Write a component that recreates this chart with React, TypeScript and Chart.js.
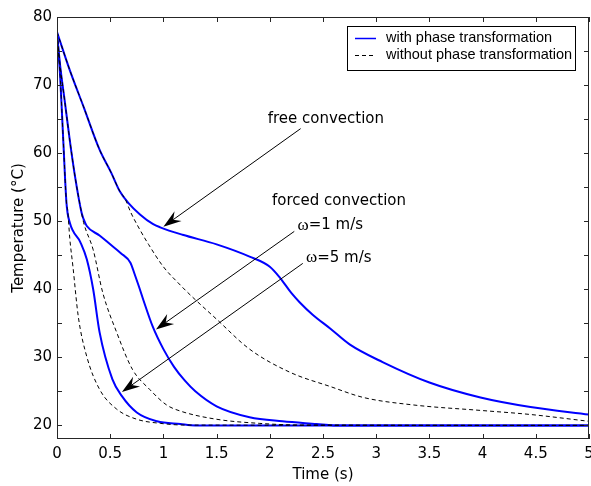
import { useEffect, useRef } from 'react';
import { Chart, registerables } from 'chart.js';

Chart.register(...registerables);

// ---- data (time in s, temperature in °C) ----
const freeWithT = [0, 0.12, 0.25, 0.4, 0.51, 0.59, 0.67, 0.78, 0.9, 0.97, 1.18, 1.5, 1.81, 2.0, 2.1, 2.2, 2.28, 2.4, 2.57, 2.75, 3.06, 3.5, 3.98, 4.45, 5.0];
const freeWithY = [77.8, 72.2, 66.8, 60.5, 57.1, 54.4, 52.7, 51.0, 49.6, 49.1, 48.0, 46.6, 44.8, 43.3, 41.6, 39.5, 38.1, 36.3, 34.2, 31.9, 29.3, 26.3, 24.1, 22.7, 21.6];

const freeWithoutT = [0, 0.12, 0.25, 0.4, 0.51, 0.59, 0.64, 0.69, 0.77, 0.86, 1.0, 1.16, 1.25, 1.5, 1.81, 2.19, 2.57, 2.88, 3.35, 3.98, 4.45, 5.0];
const freeWithoutY = [77.8, 72.2, 66.8, 60.5, 57.1, 54.4, 53.3, 51.4, 49.0, 46.6, 43.3, 40.6, 39.2, 35.6, 31.2, 27.8, 25.7, 24.1, 23.0, 22.2, 21.6, 20.6];

const w1WithT = [0, 0.03, 0.075, 0.12, 0.17, 0.23, 0.25, 0.28, 0.4, 0.5, 0.6, 0.69, 0.73, 0.77, 0.81, 0.9, 1.0, 1.1, 1.2, 1.3, 1.5, 1.81, 2.12, 2.44, 2.6, 5.0];
const w1WithY = [77.6, 72.8, 67.4, 61.9, 56.5, 51.3, 50.3, 49.3, 47.9, 46.6, 45.3, 43.9, 42.2, 40.4, 38.5, 34.5, 31.2, 28.6, 26.6, 25.0, 22.8, 21.2, 20.6, 20.2, 20.0, 20.0];

const w1WithoutT = [0, 0.03, 0.075, 0.12, 0.17, 0.23, 0.25, 0.34, 0.43, 0.56, 0.71, 0.87, 1.03, 1.16, 1.5, 1.9, 2.3, 5.0];
const w1WithoutY = [77.6, 72.8, 67.4, 61.9, 56.5, 51.3, 49.8, 45.8, 39.5, 33.7, 28.2, 25.3, 23.0, 22.1, 20.9, 20.3, 20.05, 20.0];

const w5WithT = [0, 0.03, 0.06, 0.09, 0.12, 0.22, 0.28, 0.34, 0.4, 0.52, 0.61, 0.75, 0.94, 1.16, 1.3, 5.0];
const w5WithY = [77.8, 71.2, 61.5, 52.5, 49.8, 46.9, 44.4, 40.0, 33.7, 26.8, 24.3, 21.9, 20.6, 20.2, 20.0, 20.0];

const w5WithoutT = [0, 0.03, 0.06, 0.09, 0.1, 0.12, 0.15, 0.2, 0.28, 0.4, 0.56, 0.75, 0.97, 1.2, 5.0];
const w5WithoutY = [77.8, 71.2, 61.5, 52.5, 51.7, 47.5, 43.3, 36.0, 30.1, 25.3, 22.4, 20.9, 20.3, 20.05, 20.0];

const xTickValues = [0, 0.5, 1, 1.5, 2, 2.5, 3, 3.5, 4, 4.5, 5];
const yTickValues = [20, 25, 30, 35, 40, 45, 50, 55, 60, 65, 70, 75, 80];
const yLabelValues = [20, 30, 40, 50, 60, 70, 80];

const legendLabels = ['with phase transformation', 'without phase transformation'];
const xTitle = 'Time (s)';
const yTitle = 'Temperature (°C)';

// annotation texts anchored in data coordinates (left edge, vertical centre)
const annotationTexts = [
  { t: 1.98, T: 65.0, omega: false, text: 'free convection' },
  { t: 2.02, T: 52.9, omega: false, text: 'forced convection' },
  { t: 2.26, T: 49.4, omega: true, text: '=1 m/s' },
  { t: 2.34, T: 44.6, omega: true, text: '=5 m/s' },
];
// arrows: tail -> tip in data coordinates
const arrows = [
  { t0: 2.29, T0: 63.6, t1: 1.0, T1: 49.2 },
  { t0: 2.23, T0: 48.5, t1: 0.93, T1: 34.1 },
  { t0: 2.31, T0: 43.8, t1: 0.61, T1: 24.9 },
];

const BLUE = '#0000ff';
const SANS = '"DejaVu Sans", Verdana, sans-serif';

const toPoints = (ts: number[], ys: number[]) => ts.map((t, i) => ({ x: t, y: ys[i] }));

const decorPlugin = {
  id: 'decor',
  afterDraw(chart: any) {
    const { ctx, chartArea, scales } = chart;
    const { left, right, top, bottom } = chartArea;
    const xs = scales.x;
    const ys = scales.y;
    ctx.save();

    // frame
    ctx.strokeStyle = '#262626';
    ctx.lineWidth = 1;
    ctx.strokeRect(left + 0.5, top + 0.5, right - left - 1, bottom - top - 1);

    // inward ticks
    const tl = 5;
    ctx.beginPath();
    xTickValues.forEach((v) => {
      const px = Math.round(xs.getPixelForValue(v)) + 0.5;
      ctx.moveTo(px, bottom);
      ctx.lineTo(px, bottom - tl);
      ctx.moveTo(px, top);
      ctx.lineTo(px, top + tl);
    });
    yTickValues.forEach((v) => {
      const py = Math.round(ys.getPixelForValue(v)) + 0.5;
      ctx.moveTo(left, py);
      ctx.lineTo(left + tl, py);
      ctx.moveTo(right, py);
      ctx.lineTo(right - tl, py);
    });
    ctx.stroke();

    // x tick labels
    ctx.fillStyle = '#000';
    ctx.font = `15px ${SANS}`;
    ctx.textAlign = 'center';
    ctx.textBaseline = 'middle';
    xTickValues.forEach((v) => {
      ctx.fillText(String(v), xs.getPixelForValue(v), bottom + 15);
    });

    // axis titles
    ctx.fillText(xTitle, (left + right) / 2, bottom + 36);
    ctx.save();
    ctx.translate(left - 38, (top + bottom) / 2);
    ctx.rotate(-Math.PI / 2);
    ctx.fillText(yTitle, 0, 0);
    ctx.restore();

    // annotation texts
    ctx.textAlign = 'left';
    annotationTexts.forEach((a) => {
      let x = xs.getPixelForValue(a.t);
      const y = ys.getPixelForValue(a.T);
      if (a.omega) {
        ctx.font = '17px "Liberation Serif", "DejaVu Serif", serif';
        ctx.fillText('ω', x, y);
        x += ctx.measureText('ω').width;
      }
      ctx.font = `15px ${SANS}`;
      ctx.fillText(a.text, x, y);
    });

    // arrows
    arrows.forEach((a) => {
      const x0 = xs.getPixelForValue(a.t0);
      const y0 = ys.getPixelForValue(a.T0);
      const x1 = xs.getPixelForValue(a.t1);
      const y1 = ys.getPixelForValue(a.T1);
      const ang = Math.atan2(y1 - y0, x1 - x0);
      const L = 18;
      const W = 6;
      const notch = 12;
      ctx.strokeStyle = '#000';
      ctx.lineWidth = 1;
      ctx.beginPath();
      ctx.moveTo(x0, y0);
      ctx.lineTo(x1 - Math.cos(ang) * notch, y1 - Math.sin(ang) * notch);
      ctx.stroke();
      const bx = x1 - Math.cos(ang) * L;
      const by = y1 - Math.sin(ang) * L;
      const nx = -Math.sin(ang);
      const ny = Math.cos(ang);
      ctx.fillStyle = '#000';
      ctx.beginPath();
      ctx.moveTo(x1, y1);
      ctx.lineTo(bx + nx * W, by + ny * W);
      ctx.lineTo(x1 - Math.cos(ang) * notch, y1 - Math.sin(ang) * notch);
      ctx.lineTo(bx - nx * W, by - ny * W);
      ctx.closePath();
      ctx.fill();
    });

    // legend
    const bx0 = right - 242;
    const by0 = top + 9;
    const bw = 228;
    const bh = 44;
    ctx.fillStyle = '#fff';
    ctx.fillRect(bx0, by0, bw, bh);
    ctx.strokeStyle = '#000';
    ctx.lineWidth = 1;
    ctx.strokeRect(bx0 + 0.5, by0 + 0.5, bw, bh);
    ctx.font = '14.5px "Liberation Sans", Arial, sans-serif';
    ctx.fillStyle = '#000';
    ctx.textBaseline = 'middle';
    const rows = [by0 + 12, by0 + 29];
    legendLabels.forEach((lab, i) => {
      const yy = rows[i];
      ctx.beginPath();
      if (i === 0) {
        ctx.strokeStyle = BLUE;
        ctx.lineWidth = 1.5;
        ctx.setLineDash([]);
      } else {
        ctx.strokeStyle = '#000';
        ctx.lineWidth = 1;
        ctx.setLineDash([4, 3]);
      }
      ctx.moveTo(bx0 + 8, yy + 0.5);
      ctx.lineTo(bx0 + 29, yy + 0.5);
      ctx.stroke();
      ctx.setLineDash([]);
      ctx.fillText(lab, bx0 + 39, yy);
    });

    ctx.restore();
  },
};

export default function App() {
  const ref = useRef<HTMLCanvasElement | null>(null);

  useEffect(() => {
    if (!ref.current) return;
    const dashed = (pts: any) => ({
      data: pts,
      borderColor: '#000',
      borderWidth: 1,
      borderDash: [4, 3],
      pointRadius: 0,
      fill: false,
    });
    const solid = (pts: any) => ({
      data: pts,
      borderColor: BLUE,
      borderWidth: 2,
      pointRadius: 0,
      fill: false,
    });
    const chart = new Chart(ref.current, {
      type: 'line',
      data: {
        datasets: [
          dashed(toPoints(freeWithoutT, freeWithoutY)),
          dashed(toPoints(w1WithoutT, w1WithoutY)),
          dashed(toPoints(w5WithoutT, w5WithoutY)),
          solid(toPoints(freeWithT, freeWithY)),
          solid(toPoints(w1WithT, w1WithY)),
          solid(toPoints(w5WithT, w5WithY)),
        ] as any,
      },
      options: {
        animation: false,
        responsive: false,
        maintainAspectRatio: false,
        layout: { padding: { top: 17, right: 2, left: 0, bottom: 0 } },
        plugins: { legend: { display: false }, tooltip: { enabled: false } },
        elements: { line: { cubicInterpolationMode: 'monotone' } },
        scales: {
          x: {
            type: 'linear',
            min: 0,
            max: 5,
            afterBuildTicks: (s: any) => {
              s.ticks = xTickValues.map((v) => ({ value: v }));
            },
            afterFit: (s: any) => {
              s.height = 47;
            },
            grid: { display: false, drawTicks: false },
            border: { display: false },
            ticks: { display: false },
          },
          y: {
            type: 'linear',
            min: 18,
            max: 80,
            afterBuildTicks: (s: any) => {
              s.ticks = yLabelValues.map((v) => ({ value: v }));
            },
            afterFit: (s: any) => {
              s.width = 57;
            },
            grid: { display: false, drawTicks: false },
            border: { display: false },
            ticks: {
              color: '#000',
              font: { family: SANS, size: 15 },
              padding: 5,
              autoSkip: false,
              callback: (v: any) => String(v),
            },
          },
        },
      } as any,
      plugins: [decorPlugin],
    });
    return () => chart.destroy();
  }, []);

  return (
    <div style={{ position: 'fixed', left: 0, top: 0, width: 591, height: 486, background: '#fff' }}>
      <canvas ref={ref} width={591} height={486} style={{ display: 'block' }} />
    </div>
  );
}
